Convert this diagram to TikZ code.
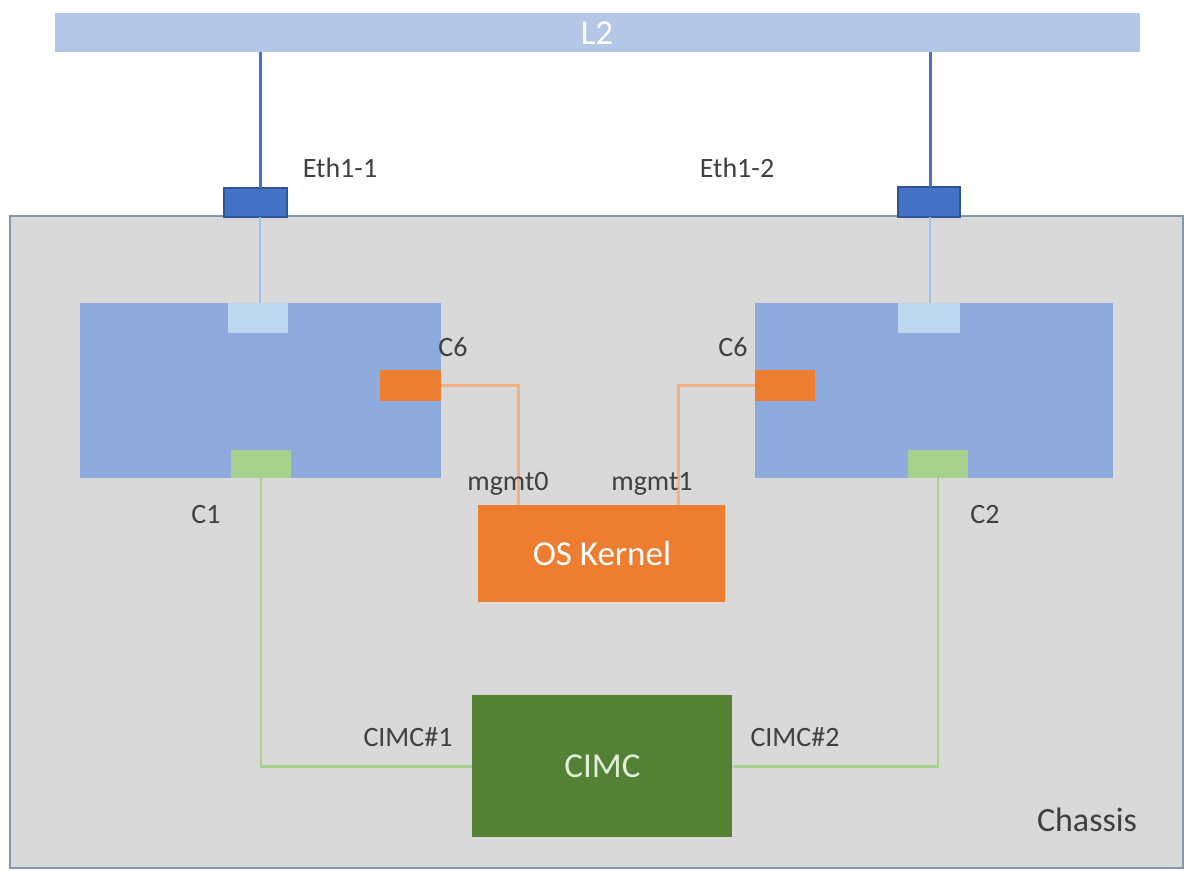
\documentclass[tikz,border=0pt]{standalone}
\usepackage{fontspec}
\setmainfont{Carlito}
\definecolor{l2c}{HTML}{B4C7E7}
\definecolor{chas}{HTML}{D9D9D9}
\definecolor{chasb}{HTML}{8497B0}
\definecolor{ethc}{HTML}{4472C4}
\definecolor{ethb}{HTML}{2F5597}
\definecolor{card}{HTML}{8FAADC}
\definecolor{inner}{HTML}{BDD7EE}
\definecolor{orng}{HTML}{ED7D31}
\definecolor{lorng}{HTML}{F4B183}
\definecolor{lgrn}{HTML}{A9D18E}
\definecolor{dgrn}{HTML}{548235}
\definecolor{cimct}{HTML}{E2F0D9}
\definecolor{lbl}{HTML}{404040}
\definecolor{thinb}{HTML}{9DC3E6}
\newcommand\rbox[6]{\node[#2, anchor=north west, inner sep=0pt, outer sep=0pt, minimum width={(#5-#3)*0.5pt}, minimum height={(#6-#4)*0.5pt}] (#1) at (#3,#4) {};}
\tikzset{
  l2bar/.style={fill=l2c},
  chassisbox/.style={fill=chas, draw=chasb, line width=0.75pt},
  ethport/.style={fill=ethc, draw=ethb, line width=0.75pt},
  cardbox/.style={fill=card},
  innerbox/.style={fill=inner},
  orangeport/.style={fill=orng},
  greenport/.style={fill=lgrn},
  lbltext/.style={text=lbl, font=\fontsize{14}{16}\selectfont, inner sep=0pt},
  bigtext/.style={font=\fontsize{17.5}{20}\selectfont},
  uplink/.style={draw=ethc, line width=1.5pt},
  thinlink/.style={draw=thinb, line width=0.9pt},
  mgmtlink/.style={draw=lorng, line width=1.5pt},
  cimclink/.style={draw=lgrn, line width=1.3pt},
}
\begin{document}
\begin{tikzpicture}[x=0.5pt, y=-0.5pt]
\useasboundingbox (0,0) rectangle (1185,871);
% L2 bar
\rbox{l2}{l2bar}{55}{13}{1140}{52}
\node[text=white, bigtext] (l2t) at (597,33) {L2};
% chassis
\rbox{chassis}{chassisbox}{10}{216}{1183}{868}
% eth ports
\rbox{eth1}{ethport}{224}{188}{287}{217}
\rbox{eth2}{ethport}{898}{187}{960}{217}
% cards
\rbox{cardl}{cardbox}{80}{303}{441}{478}
\rbox{cardr}{cardbox}{755}{303}{1113}{478}
\rbox{inl}{innerbox}{228}{303}{288}{333}
\rbox{inr}{innerbox}{898}{303}{960}{333}
\rbox{c6l}{orangeport}{380}{370}{441}{401}
\rbox{c6r}{orangeport}{755}{370}{815}{401}
\rbox{c1}{greenport}{231}{450}{291}{478}
\rbox{c2}{greenport}{908}{450}{968}{478}
% OS kernel & CIMC
\node[fill=orng, anchor=north west, inner sep=0pt, minimum width={(725-478)*0.5pt}, minimum height={(602-505)*0.5pt}, text=white, bigtext] (os) at (478,505) {OS Kernel};
\node[fill=dgrn, anchor=north west, inner sep=0pt, minimum width={(732-472)*0.5pt}, minimum height={(837-695)*0.5pt}, text=cimct, bigtext] (cimc) at (472,695) {CIMC};
% connectors
\coordinate (u1) at (260,0);
\coordinate (u2) at (930,0);
\draw[uplink] (eth1.north -| u1) -- (l2.south -| u1);
\draw[uplink] (eth2.north -| u2) -- (l2.south -| u2);
\draw[thinlink] (eth1.south -| u1) -- (inl.north -| u1);
\draw[thinlink] (eth2.south -| u2) -- (inr.north -| u2);
\coordinate (m0) at (518,505);
\coordinate (m1) at (678,505);
\draw[mgmtlink] (c6l.east) -| (m0);
\draw[mgmtlink] (c6r.west) -| (m1);
\draw[cimclink] (c1.south) |- (cimc.west);
\draw[cimclink] (c2.south) |- (cimc.east);
% labels
\node[lbltext] (teth1) at (340,168) {Eth1-1};
\node[lbltext] (teth2) at (737,168) {Eth1-2};
\node[lbltext] (tc6l) at (453,347) {C6};
\node[lbltext] (tc6r) at (733,347) {C6};
\node[lbltext] (tm0) at (508,484) {mgmt0};
\node[lbltext] (tm1) at (652,484) {mgmt1};
\node[lbltext] (tc1) at (206,515) {C1};
\node[lbltext] (tc2) at (985,515) {C2};
\node[lbltext] (tci1) at (408,737) {CIMC\#1};
\node[lbltext] (tci2) at (795,737) {CIMC\#2};
\node[lbltext, font=\fontsize{17}{20}\selectfont] (tch) at (1087,820) {Chassis};
\end{tikzpicture}
\end{document}
